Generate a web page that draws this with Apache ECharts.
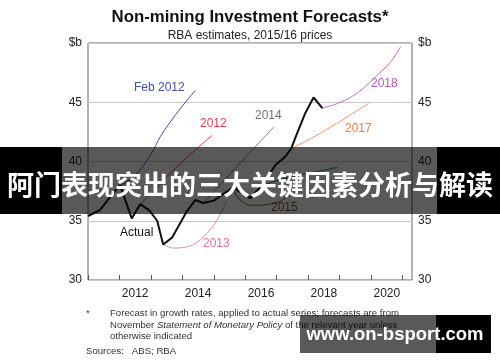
<!DOCTYPE html>
<html><head><meta charset="utf-8">
<script src="https://cdn.jsdelivr.net/npm/echarts@6/dist/echarts.min.js"></script>
<style>html,body{margin:0;padding:0;background:#fff}#c{width:500px;height:362px}</style>
</head><body><div id="c"></div>
<script>
// ---- data (year as decimal, value $b) ----
const actual = [[2011.0,35.4],[2011.38,35.9],[2011.7,37.0],[2012.02,38.0],[2012.39,35.2],[2012.66,36.4],[2012.94,35.9],[2013.2,35.0],[2013.39,33.0],[2013.68,33.6],[2014.12,35.7],[2014.41,36.75],[2014.66,36.5],[2015.0,36.7],[2015.27,37.2],[2015.62,37.8],[2016.16,36.9],[2016.54,38.0],[2016.96,39.7],[2017.27,40.4],[2017.46,41.1],[2017.65,42.4],[2017.91,44.1],[2018.17,45.4],[2018.45,44.5]];
const fcFeb2012 = [[2011.95,37.8],[2012.55,39.0],[2013.0,40.6],[2013.3,42.1],[2013.8,44.0],[2014.41,46.0]];
const fc2012 = [[2012.66,36.4],[2013.1,37.5],[2013.61,39.0],[2014.3,40.7],[2014.94,42.2]];
const fc2013 = [[2013.39,33.0],[2013.71,32.7],[2014.14,32.8],[2014.57,33.4],[2015.04,34.8],[2015.4,36.6]];
const fc2014 = [[2014.66,36.5],[2015.5,38.9],[2016.2,40.9],[2016.9,42.9]];
const fc2015 = [[2015.62,37.8],[2015.78,36.9],[2016.25,36.3],[2016.96,36.5],[2017.27,36.9],[2017.5,37.3]];
const fc2016 = [[2016.54,38.0],[2017.3,38.6],[2018.2,39.1],[2018.93,39.5]];
const fc2017 = [[2017.27,40.4],[2017.43,41.0],[2018.07,41.9],[2018.71,42.9],[2019.92,44.9]];
const fc2018 = [[2018.45,44.5],[2019.03,45.0],[2019.57,45.8],[2020.08,47.0],[2020.62,48.4],[2020.94,49.7]];
const xTickYears = [2011,2012,2013,2014,2015,2016,2017,2018,2019,2020,2021];
const xLabels = ['2012','2014','2016','2018','2020'];
const yTicks = [30,35,40,45,50];
const yTopLabel = '$b';

const chart = echarts.init(document.getElementById('c'), null, {renderer:'canvas'});
const F = 'Liberation Sans, Arial, sans-serif';
const thin = (name, data, color) => ({name, type:'line', data, smooth:0.4, symbol:'none', lineStyle:{color, width:1}, z:2});
const yAxisCommon = {type:'value', min:yTicks[0], max:yTicks[yTicks.length-1], interval:5,
  axisLine:{show:false}, axisTick:{show:false},
  splitLine:{show:true, lineStyle:{color:'#c8c8c8', width:1}},
  axisLabel:{fontFamily:F, fontSize:12, color:'#222', margin:6,
    formatter: v => v===50 ? yTopLabel : String(v)}};
const labelTxt = (t, x, y, color) => ({type:'text', left:x, top:y, z:5,
  style:{text:t, fill:color, font:'12px '+F}});
const FN = '9.6px '+F;
chart.setOption({
  animation:false,
  title:[{text:'Non-mining Investment Forecasts*', left:'center', top:4,
    textStyle:{fontFamily:F, fontSize:16.8, fontWeight:'bold', color:'#111'}},
    {text:'RBA estimates, 2015/16 prices', left:'center', top:25,
    textStyle:{fontFamily:F, fontSize:12, fontWeight:'normal', color:'#222'}}],
  grid:{left:88, right:88, top:43, bottom:82, show:true, borderColor:'#666', borderWidth:1, backgroundColor:'transparent'},
  xAxis:{type:'value', min:2011, max:2021.3,
    axisLine:{show:false},
    splitLine:{show:false},
    axisTick:{show:true, inside:true, length:5, lineStyle:{color:'#555'}, customValues:xTickYears},
    axisLabel:{fontFamily:F, fontSize:12, color:'#222', margin:8,
      customValues: xLabels.map(s => Number(s)+0.5),
      formatter: v => String(Math.floor(v))}},
  yAxis:[Object.assign({position:'left'}, yAxisCommon), Object.assign({position:'right'}, yAxisCommon, {splitLine:{show:false}})],
  series:[
    thin('Feb 2012', fcFeb2012, '#3d4fa8'),
    thin('2012', fc2012, '#e5404a'),
    thin('2013', fc2013, '#e58ab5'),
    thin('2014', fc2014, '#808080'),
    thin('2015', fc2015, '#7a5c28'),
    thin('2016', fc2016, '#2e7f86'),
    thin('2017', fc2017, '#f0906a'),
    thin('2018', fc2018, '#cc66cc'),
    {name:'Actual', type:'line', data:actual, symbol:'none', lineStyle:{color:'#111', width:2}, z:4}
  ],
  graphic:[
    labelTxt('Feb 2012', 134, 82, '#3d4fa8'),
    labelTxt('2012', 200, 118, '#e5404a'),
    labelTxt('2014', 255, 110, '#707070'),
    labelTxt('2018', 371, 78, '#c050b8'),
    labelTxt('2017', 345, 123, '#f07a4a'),
    labelTxt('2015', 271, 202, '#7a5c28'),
    labelTxt('Actual', 120, 227, '#111'),
    labelTxt('2013', 203, 238, '#e070a8'),
    {type:'text', left:86, top:308, z:5, style:{text:'*', fill:'#333', font:FN}},
    {type:'text', left:110, top:308, z:5, style:{text:'Forecast in growth rates, applied to actual series; forecasts are from', fill:'#333', font:FN}},
    {type:'text', left:110, top:320, z:5, style:{rich:{n:{fill:'#333', font:FN}, i:{fill:'#333', font:'italic '+FN}}, text:'{n|November }{i|Statement of Monetary Policy}{n| of the relevant year unless}'}},
    {type:'text', left:110, top:331, z:5, style:{text:'otherwise indicated', fill:'#333', font:FN}},
    {type:'text', left:86, top:346, z:5, style:{text:'Sources:   ABS; RBA', fill:'#333', font:FN}},
    // overlay band
    {type:'rect', z:20, shape:{x:62, y:147, width:375, height:67}, style:{fill:'rgba(0,0,0,0.65)'}},
    {type:'rect', z:20, shape:{x:0, y:147, width:62, height:67}, style:{fill:'#000'}},
    {type:'rect', z:20, shape:{x:437, y:147, width:63, height:67}, style:{fill:'#000'}},
    {type:'text', z:21, x:250, y:185, style:{text:'阿门表现突出的三大关键因素分析与解读', fill:'#fff', font:'bold 27px "Noto Sans CJK SC", sans-serif', align:'center', verticalAlign:'middle'}},
    // bottom watermark
    {type:'rect', z:20, shape:{x:300, y:315, width:136, height:38}, style:{fill:'rgba(0,0,0,0.65)'}},
    {type:'rect', z:20, shape:{x:436, y:315, width:55, height:38}, style:{fill:'#000'}},
    {type:'text', z:21, x:395, y:335, style:{text:'www.on-bsport.com', fill:'#fff', font:'bold 18.5px "Liberation Sans", sans-serif', align:'center', verticalAlign:'middle'}}
  ]
});
</script></body></html>
